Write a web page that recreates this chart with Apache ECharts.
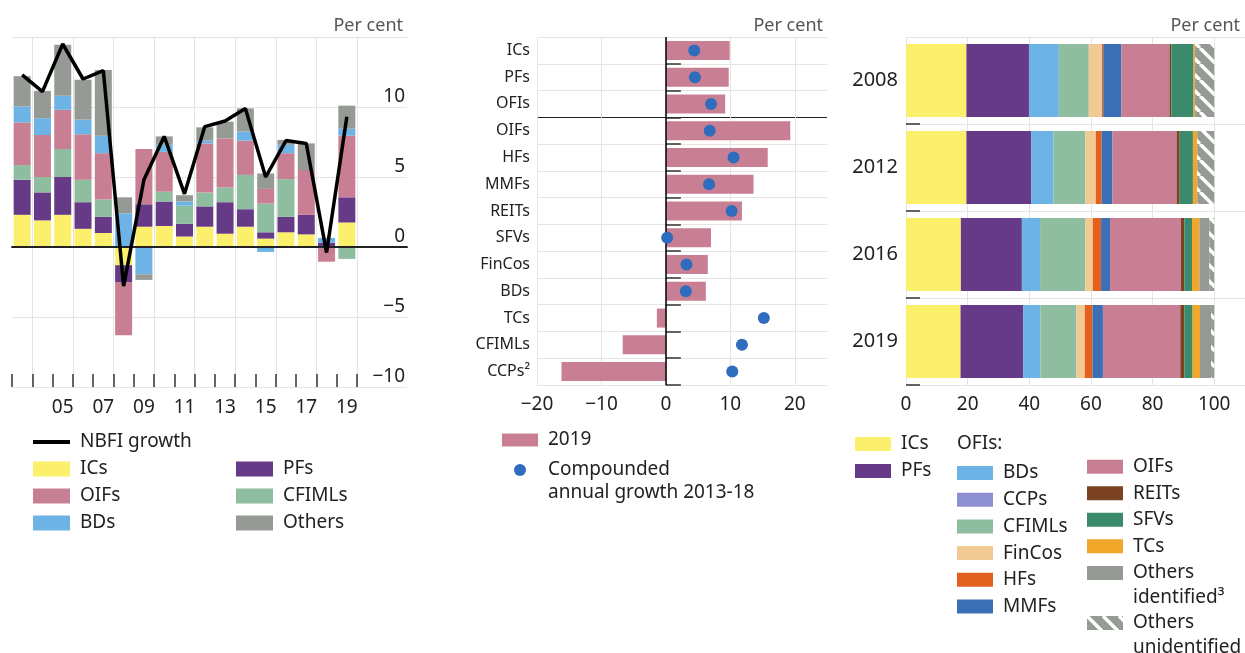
<!DOCTYPE html>
<html>
<head>
<meta charset="utf-8">
<title>NBFI growth and composition</title>
<style>
  html, body { margin: 0; padding: 0; background: #fff; }
  #main { width: 1245px; height: 653px; }
</style>
</head>
<body>
<div id="main"></div>
<script src="https://cdn.jsdelivr.net/npm/echarts@6/dist/echarts.min.js"></script>
<script>
// ---- left panel: contributions to NBFI growth (per cent) ----
var years = ['2003','2004','2005','2006','2007','2008','2009','2010','2011','2012','2013','2014','2015','2016','2017','2018','2019'];
var growthICs    = [2.3, 1.9, 2.3, 1.3, 1.0, -1.3, 1.45, 1.5, 0.75, 1.45, 0.95, 1.45, 0.6, 1.05, 0.9, 0, 1.75];
var growthPFs    = [2.5, 2.0, 2.7, 1.9, 1.15, -1.2, 1.6, 1.75, 0.9, 1.45, 2.25, 1.25, 0.45, 1.1, 1.4, 0.3, 1.8];
var growthCFIMLs = [1.05, 1.1, 2.0, 1.6, 1.25, 0, 0, 0.7, 1.3, 1.0, 1.05, 2.45, 2.05, 2.7, 0, 0, -0.85];
var growthOIFs   = [3.05, 3.0, 2.8, 3.25, 3.3, -3.8, 3.95, 2.85, 0, 3.5, 3.5, 2.45, 1.05, 1.85, 3.2, -1.05, 4.4];
var growthBDs    = [1.15, 1.2, 1.0, 1.05, 1.25, 2.4, -1.95, 0.5, 0.3, 0.2, 0, 0.65, -0.35, 0.6, 0, 0.35, 0.5];
var growthOthers = [2.15, 1.95, 3.65, 2.85, 4.7, 1.15, -0.4, 0.6, 0.45, 0.95, 1.2, 1.65, 1.1, 0.35, 1.9, 0, 1.65];
var growthNBFI   = [12.3, 11.1, 14.5, 12.0, 12.6, -2.8, 4.8, 7.9, 3.8, 8.6, 9.0, 9.9, 5.0, 7.6, 7.4, -0.4, 9.3];

// ---- middle panel: growth by sector ----
var midCats = ['ICs','PFs','OFIs','OIFs','HFs','MMFs','REITs','SFVs','FinCos','BDs','TCs','CFIMLs','CCPs\u00b2'];
var growth2019 = [9.9, 9.75, 9.2, 19.3, 15.8, 13.6, 11.8, 7.0, 6.5, 6.2, -1.4, -6.7, -16.2];
var cagr1318   = [4.4, 4.5, 7.0, 6.8, 10.5, 6.7, 10.2, 0.2, 3.2, 3.1, 15.2, 11.8, 10.3];

// ---- right panel: shares of NBFI assets (per cent) ----
var shareYears = ['2008','2012','2016','2019'];
var shICs    = [19.6, 19.6, 17.8, 17.7];
var shPFs    = [20.3, 21.0, 19.8, 20.3];
var shBDs    = [9.7, 7.2, 5.9, 5.6];
var shCCPs   = [0, 0, 0, 0];
var shCFIMLs = [9.7, 10.4, 14.7, 11.7];
var shFinCos = [4.3, 3.4, 2.4, 2.7];
var shHFs    = [0.4, 1.9, 2.7, 2.5];
var shMMFs   = [5.9, 3.5, 2.9, 3.4];
var shOIFs   = [15.6, 20.8, 23.0, 25.1];
var shREITs  = [0.6, 1.0, 1.1, 1.3];
var shSFVs   = [7.2, 4.3, 2.5, 2.7];
var shTCs    = [0.5, 1.4, 2.4, 2.4];
var shOthId  = [0, 0, 3.2, 3.6];
var shOthUn  = [6.2, 5.5, 1.6, 1.0];

var colICs = '#fcef6c', colPFs = '#663a86', colBDs = '#6db3e6', colCCPs = '#8c90d2',
    colCFIMLs = '#8fbd9f', colFinCos = '#f0c993', colHFs = '#e2611e', colMMFs = '#3b70b7',
    colOIFs = '#c97f93', colREITs = '#7b4321', colSFVs = '#3b8a6b', colTCs = '#f0a72a',
    colOthers = '#969a95', colDot = '#2f6cbd';

// hatched fill for "Others unidentified"
var hatch = document.createElement('canvas');
hatch.width = 16; hatch.height = 16;
var hc = hatch.getContext('2d');
hc.fillStyle = colOthers; hc.fillRect(0, 0, 16, 16);
hc.strokeStyle = '#fff'; hc.lineWidth = 3.5;
[-16, 0, 16].forEach(function (k) {
    hc.beginPath(); hc.moveTo(k, 0); hc.lineTo(k + 16, 16); hc.stroke();
});
var colOthUn = { image: hatch, repeat: 'repeat' };

var font = '"Noto Sans", sans-serif';
var txt = '#222';
var gridCol = '#e4e4e4';

function minus(v) { return String(v).replace('-', '\u2212'); }

var myChart = echarts.init(document.getElementById('main'));

var series = [];
// left stacked contributions
[['ICs', growthICs, colICs], ['PFs', growthPFs, colPFs], ['CFIMLs', growthCFIMLs, colCFIMLs],
 ['OIFs', growthOIFs, colOIFs], ['BDs', growthBDs, colBDs], ['Others', growthOthers, colOthers]
].forEach(function (s) {
    series.push({
        name: s[0], type: 'bar', stack: 'growth', xAxisIndex: 0, yAxisIndex: 0,
        barWidth: 17, data: s[1], itemStyle: { color: s[2] }
    });
});
series.push({
    name: 'NBFI growth', type: 'line', xAxisIndex: 0, yAxisIndex: 0, data: growthNBFI,
    symbol: 'none', z: 5, lineStyle: { color: '#000', width: 3.5 }, itemStyle: { color: '#000' }
});
// middle
series.push({
    name: '2019', type: 'bar', xAxisIndex: 2, yAxisIndex: 2, data: growth2019, barWidth: 19,
    itemStyle: { color: colOIFs },
    markLine: {
        silent: true, symbol: 'none', label: { show: false },
        lineStyle: { color: '#000', width: 1.5, type: 'solid' },
        data: [{ xAxis: 0 }]
    }
});
series.push({
    name: 'Compounded annual growth 2013-18', type: 'scatter', xAxisIndex: 2, yAxisIndex: 2,
    data: cagr1318.map(function (v, i) { return [v, midCats[i]]; }),
    symbolSize: 12, z: 5, itemStyle: { color: colDot, opacity: 1 }
});
// right stacked shares
[['ICs', shICs, colICs], ['PFs', shPFs, colPFs], ['BDs', shBDs, colBDs], ['CCPs', shCCPs, colCCPs],
 ['CFIMLs', shCFIMLs, colCFIMLs], ['FinCos', shFinCos, colFinCos], ['HFs', shHFs, colHFs],
 ['MMFs', shMMFs, colMMFs], ['OIFs', shOIFs, colOIFs], ['REITs', shREITs, colREITs],
 ['SFVs', shSFVs, colSFVs], ['TCs', shTCs, colTCs], ['Others identified', shOthId, colOthers],
 ['Others unidentified', shOthUn, colOthUn]
].forEach(function (s) {
    series.push({
        name: s[0], type: 'bar', stack: 'share', xAxisIndex: 3, yAxisIndex: 3,
        barWidth: 73, data: s[1], itemStyle: { color: s[2] }
    });
});

function legendText(extra) {
    var t = { fontSize: 19, color: txt, lineHeight: 20, padding: [0, 0, 0, 5], fontFamily: font };
    for (var k in extra) t[k] = extra[k];
    return t;
}
function titleText(text, pos) {
    var t = { text: text, padding: 0, textStyle: { fontSize: 18, fontWeight: 'normal', color: '#555', lineHeight: 20, fontFamily: font } };
    for (var k in pos) t[k] = pos[k];
    return t;
}

var option = {
    animation: false,
    textStyle: { fontFamily: font },
    title: [
        titleText('Per cent', { right: 842, top: 16 }),
        titleText('Per cent', { right: 422, top: 16 }),
        titleText('Per cent', { right: 5, top: 16 }),
        { text: 'OFIs:', left: 957, top: 434, padding: 0,
          textStyle: { fontSize: 19, fontWeight: 'normal', color: txt, lineHeight: 20, fontFamily: font } }
    ],
    grid: [
        { left: 12, top: 37, width: 345, height: 350, outerBoundsMode: 'none' },
        { left: 12, top: 37, width: 395, height: 350, outerBoundsMode: 'none' },
        { left: 537, top: 37, width: 290, height: 348, outerBoundsMode: 'none' },
        { left: 906, top: 37, width: 339, height: 348, outerBoundsMode: 'none' }
    ],
    xAxis: [
        {
            gridIndex: 0, type: 'category', data: years, position: 'bottom',
            axisLine: { show: false, onZero: false },
            axisTick: { show: true, inside: true, length: 13, interval: 0, lineStyle: { color: '#333', width: 1.5 } },
            axisLabel: {
                fontSize: 19, color: txt, margin: 11,
                interval: function (i) { return i % 2 === 0 && i > 0; },
                formatter: function (v) { return v.slice(2); }
            },
            splitLine: { show: true, interval: function (i) { return i % 2 === 1; }, lineStyle: { color: gridCol } }
        },
        {
            gridIndex: 1, type: 'value', min: 0, max: 1, z: 3,
            axisLine: { show: true, onZero: true, lineStyle: { color: '#222', width: 2 } },
            axisTick: { show: false }, axisLabel: { show: false }, splitLine: { show: false }
        },
        {
            gridIndex: 2, type: 'value', min: -20, max: 25, interval: 10,
            axisLine: { show: false }, axisTick: { show: false },
            splitLine: { show: true, showMaxLine: false, lineStyle: { color: gridCol } },
            axisLabel: {
                fontSize: 19, color: txt, margin: 10, showMaxLabel: false,
                formatter: function (v) { return v > 20 ? '' : minus(v); }
            }
        },
        {
            gridIndex: 3, type: 'value', min: 0, max: 110, interval: 20,
            axisLine: { show: false }, axisTick: { show: false },
            splitLine: { show: true, showMaxLine: false, lineStyle: { color: gridCol } },
            axisLabel: {
                fontSize: 19, color: txt, margin: 10, showMaxLabel: false,
                formatter: function (v) { return v > 100 ? '' : v; }
            }
        }
    ],
    yAxis: [
        { gridIndex: 0, type: 'value', min: -10, max: 15, show: false },
        {
            gridIndex: 1, type: 'value', min: -10, max: 15, interval: 5, position: 'right',
            axisLine: { show: false }, axisTick: { show: false },
            splitLine: { show: true, lineStyle: { color: gridCol } },
            axisLabel: {
                inside: true, margin: 2, verticalAlign: 'bottom', padding: [0, 0, 1, 0],
                fontSize: 19, color: txt,
                formatter: function (v) { return v === 15 ? '' : minus(v); }
            }
        },
        {
            gridIndex: 2, type: 'category', data: midCats, inverse: true,
            axisLine: { show: false },
            axisTick: { show: true, inside: true, length: 15, interval: function (i) { return i > 0; },
                        lineStyle: { color: '#333', width: 1.5 } },
            axisLabel: { fontSize: 16, color: txt, margin: 7, interval: 0 },
            splitLine: {
                show: true, interval: 0,
                lineStyle: { color: [gridCol, gridCol, gridCol, '#222', gridCol, gridCol, gridCol,
                                     gridCol, gridCol, gridCol, gridCol, gridCol, gridCol, gridCol] }
            }
        },
        {
            gridIndex: 3, type: 'category', data: shareYears, inverse: true,
            axisLine: { show: false },
            axisTick: { show: true, inside: true, length: 14, interval: function (i) { return i > 0; },
                        lineStyle: { color: '#333', width: 1.5 } },
            axisLabel: { fontSize: 20, color: txt, margin: 8 },
            splitLine: { show: true, lineStyle: { color: gridCol } }
        }
    ],
    legend: [
        { data: [{ name: 'NBFI growth', icon: 'rect' }], left: 33, top: 432, padding: 0, orient: 'vertical',
          itemWidth: 37, itemHeight: 4, textStyle: legendText({}) },
        { data: ['ICs', 'OIFs', 'BDs'], left: 33, top: 459, padding: 0, orient: 'vertical', icon: 'rect',
          itemWidth: 37, itemHeight: 15, itemGap: 7, textStyle: legendText({}) },
        { data: ['PFs', 'CFIMLs', 'Others'], left: 236, top: 459, padding: 0, orient: 'vertical', icon: 'rect',
          itemWidth: 37, itemHeight: 15, itemGap: 7, textStyle: legendText({}) },
        { data: ['2019'], left: 502, top: 430, padding: 0, icon: 'rect',
          itemWidth: 36, itemHeight: 13, textStyle: legendText({}) },
        // leading blank line keeps the first text line level with the marker
        { data: ['Compounded annual growth 2013-18'], left: 514, top: 435.5, padding: 0, icon: 'circle',
          itemWidth: 12, itemHeight: 12,
          formatter: function () { return '\nCompounded\nannual growth 2013-18'; },
          textStyle: legendText({ lineHeight: 23, padding: [0, 0, 0, 17] }) },
        { data: ['ICs', 'PFs'], left: 855, top: 434, padding: 0, orient: 'vertical', icon: 'rect',
          itemWidth: 36, itemHeight: 14, itemGap: 7, textStyle: legendText({}) },
        { data: ['BDs', 'CCPs', 'CFIMLs', 'FinCos', 'HFs', 'MMFs'], left: 957, top: 463, padding: 0,
          orient: 'vertical', icon: 'rect', itemWidth: 36, itemHeight: 14, itemGap: 6.7, textStyle: legendText({}) },
        { data: ['OIFs', 'REITs', 'SFVs', 'TCs'], left: 1087, top: 456.7, padding: 0,
          orient: 'vertical', icon: 'rect', itemWidth: 36, itemHeight: 14, itemGap: 6.5, textStyle: legendText({}) },
        { data: ['Others identified'], left: 1087, top: 535.5, padding: 0, icon: 'rect',
          itemWidth: 36, itemHeight: 14,
          formatter: function () { return '\nOthers\nidentified\u00b3'; },
          textStyle: legendText({ lineHeight: 25 }) },
        { data: ['Others unidentified'], left: 1087, top: 585.5, padding: 0, icon: 'rect',
          itemWidth: 36, itemHeight: 14,
          formatter: function () { return '\nOthers\nunidentified'; },
          textStyle: legendText({ lineHeight: 25 }) }
    ],
    series: series
};
myChart.setOption(option);
</script>
</body>
</html>
